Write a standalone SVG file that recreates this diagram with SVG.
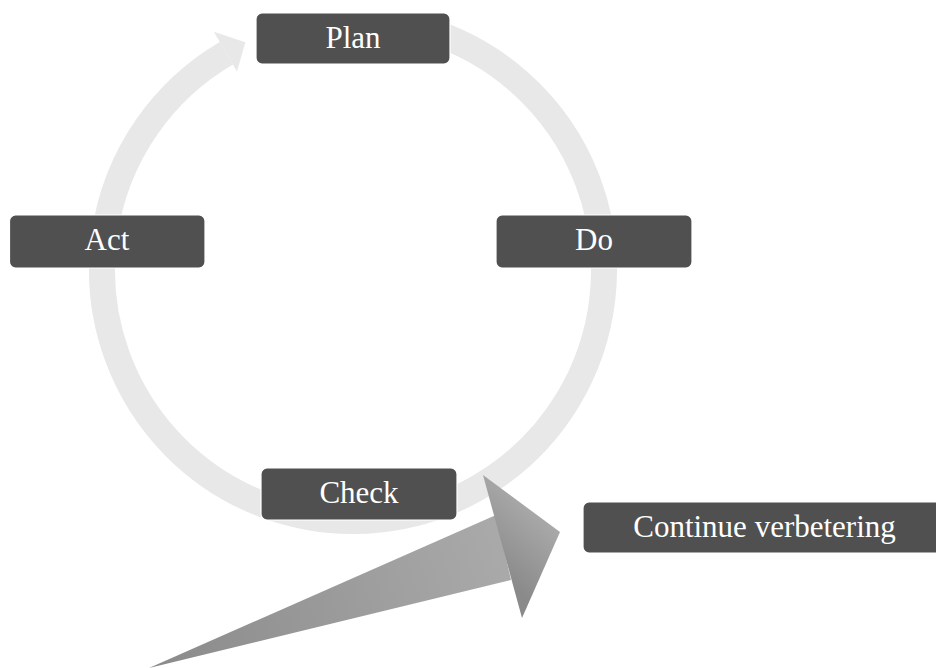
<svg xmlns="http://www.w3.org/2000/svg" width="936" height="668" viewBox="0 0 936 668">
<style>
.box{fill:#505050;stroke:#ffffff;stroke-width:1.2}
.lbl{fill:#ffffff;font-family:"Liberation Serif","Times New Roman",serif;font-size:31px;text-anchor:middle}
.ring{fill:none;stroke:#e8e8e8;stroke-width:26}
</style>
<defs>
<linearGradient id="shaftG" gradientUnits="userSpaceOnUse" x1="149" y1="668" x2="500" y2="560">
<stop offset="0" stop-color="#8a8a8a"/>
<stop offset="1" stop-color="#a9a9a9"/>
</linearGradient>
<linearGradient id="headG" gradientUnits="userSpaceOnUse" x1="495" y1="570" x2="545" y2="515">
<stop offset="0" stop-color="#8a8a8a"/>
<stop offset="1" stop-color="#aaaaaa"/>
</linearGradient>
</defs>
<g id="connectors">
<path class="ring" d="M426.4 30 A251 251 0 1 1 226.4 53.3"/>
<polygon points="213.8,31.7 245.3,42.2 237,71.4" fill="#e8e8e8"/>
<g id="big-arrow">
<polygon points="149,668 496,515 511,580" fill="url(#shaftG)"/>
<polygon points="483,475 560,532 522,618" fill="url(#headG)"/>
</g>
</g>
<g id="plan">
<rect class="box" x="256" y="13" width="194" height="51" rx="6"/>
<text class="lbl" x="353" y="48">Plan</text>
</g>
<g id="do">
<rect class="box" x="496" y="215" width="196" height="53" rx="6"/>
<text class="lbl" x="594" y="250">Do</text>
</g>
<g id="check">
<rect class="box" x="261" y="468" width="196" height="52" rx="6"/>
<text class="lbl" x="359" y="503">Check</text>
</g>
<g id="act">
<rect class="box" x="9.5" y="215" width="195.5" height="53" rx="6"/>
<text class="lbl" x="107" y="250">Act</text>
</g>
<g id="continue">
<rect class="box" x="583" y="502" width="370" height="51" rx="6"/>
<text class="lbl" x="764.5" y="537">Continue verbetering</text>
</g>
</svg>
